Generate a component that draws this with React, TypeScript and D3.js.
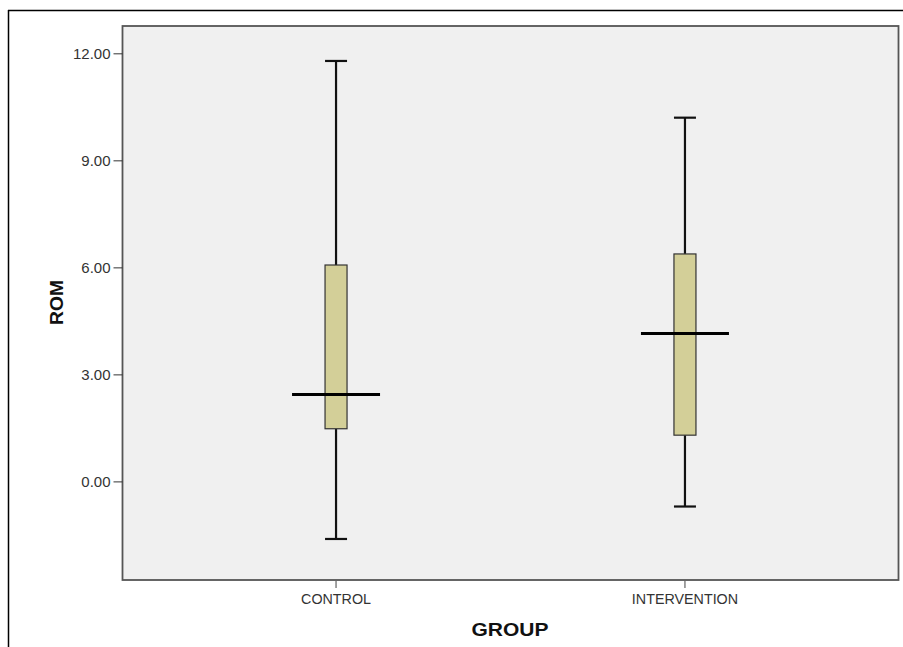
import React from 'react';
import * as d3 from 'd3';

// chart data
const groups = ['CONTROL', 'INTERVENTION'];
const whiskerLow = [-1.6, -0.69];
const q1 = [1.49, 1.31];
const median = [2.45, 4.16];
const q3 = [6.08, 6.39];
const whiskerHigh = [11.8, 10.21];
const yTicks = [0, 3, 6, 9, 12];

const W = 903;
const H = 647;
const plot = {left: 122.5, top: 26, right: 898.5, bottom: 580};

const App = () => {
    const yScale = d3.scaleLinear()
        .domain([-2.75, 12.78])
        .range([plot.bottom, plot.top]);

    const xScale = d3.scalePoint<string>()
        .domain(groups)
        .range([plot.left, plot.right])
        .padding(0.612);

    const boxW = 22;
    const medW = 88;
    const font = 'Arial, "Liberation Sans", sans-serif';

    return (
        <svg width={W} height={H} style={{position: 'absolute', left: 0, top: 0}} fontFamily={font}>
            <rect x={0} y={0} width={W} height={H} fill="#fff" />
            {/* outer frame */}
            <line x1={8.5} x2={8.5} y1={10} y2={H} stroke="#000" strokeWidth={1.5} />
            <line x1={8} x2={W} y1={10.5} y2={10.5} stroke="#000" strokeWidth={1.5} />

            {/* plot area */}
            <rect x={plot.left} y={plot.top} width={plot.right - plot.left} height={plot.bottom - plot.top}
                  fill="#f0f0f0" stroke="#555" strokeWidth={1.8} />

            {/* y axis */}
            {yTicks.map(t => (
                <g key={t} transform={`translate(0,${yScale(t)})`}>
                    <line x1={plot.left - 9} x2={plot.left} stroke="#333" strokeWidth={1} />
                    <text x={plot.left - 12} dy="0.36em" textAnchor="end" fontSize={15} fill="#333">
                        {t.toFixed(2)}
                    </text>
                </g>
            ))}
            <text transform={`translate(63,${302.5}) rotate(-90)`}
                  textAnchor="middle" fontSize={19} fontWeight="bold" fill="#111"
                  textLength={45} lengthAdjust="spacingAndGlyphs">ROM</text>

            {/* x axis */}
            {groups.map(g => (
                <g key={g} transform={`translate(${xScale(g)},0)`}>
                    <line y1={plot.bottom + 1} y2={plot.bottom + 8} stroke="#444" strokeWidth={1} />
                    <text y={plot.bottom + 24} textAnchor="middle" fontSize={14.3} fill="#333">{g}</text>
                </g>
            ))}
            <text x={510} y={636} textAnchor="middle" fontSize={17.5} fontWeight="bold" fill="#111"
                  textLength={77} lengthAdjust="spacingAndGlyphs">GROUP</text>

            {/* boxes */}
            {groups.map((g, i) => {
                const cx = xScale(g) as number;
                return (
                    <g key={g}>
                        <line x1={cx} x2={cx} y1={yScale(whiskerHigh[i])} y2={yScale(q3[i])} stroke="#111" strokeWidth={2.2} />
                        <line x1={cx} x2={cx} y1={yScale(q1[i])} y2={yScale(whiskerLow[i])} stroke="#111" strokeWidth={2.2} />
                        <line x1={cx - boxW / 2} x2={cx + boxW / 2} y1={yScale(whiskerHigh[i])} y2={yScale(whiskerHigh[i])} stroke="#111" strokeWidth={2.2} />
                        <line x1={cx - boxW / 2} x2={cx + boxW / 2} y1={yScale(whiskerLow[i])} y2={yScale(whiskerLow[i])} stroke="#111" strokeWidth={2.2} />
                        <rect x={cx - boxW / 2} y={yScale(q3[i])} width={boxW} height={yScale(q1[i]) - yScale(q3[i])}
                              fill="#d3cf98" stroke="#333" strokeWidth={1.2} />
                        <line x1={cx - medW / 2} x2={cx + medW / 2} y1={yScale(median[i])} y2={yScale(median[i])} stroke="#000" strokeWidth={3} />
                    </g>
                );
            })}
        </svg>
    );
};

export default App;
